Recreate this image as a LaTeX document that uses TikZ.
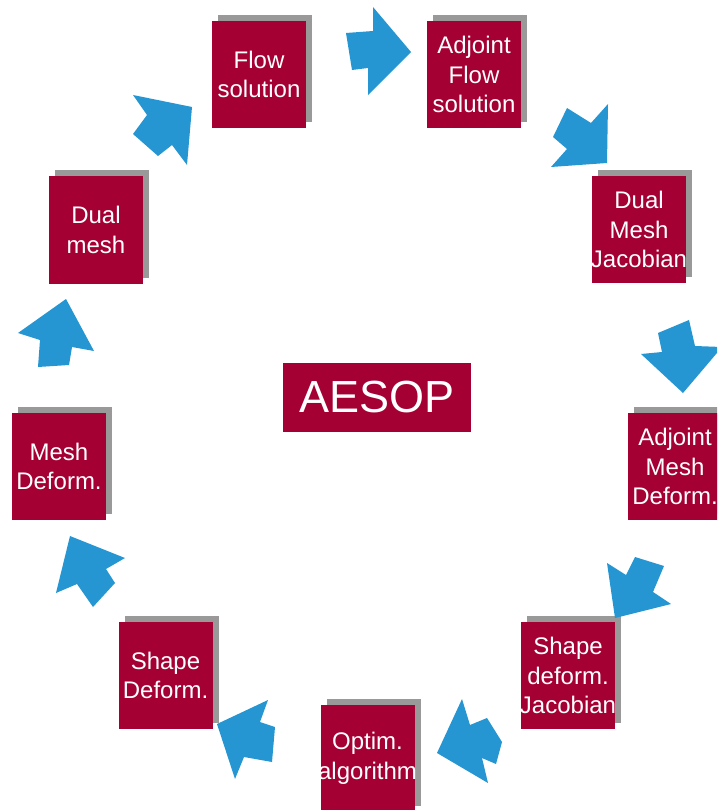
\documentclass[tikz,border=0pt]{standalone}
\usepackage{fontspec}
\setmainfont{Liberation Sans}
\usetikzlibrary{shadows}
\definecolor{boxred}{RGB}{165,0,52}
\definecolor{shadowgray}{RGB}{153,153,153}
\definecolor{arrowblue}{RGB}{38,150,211}

\begin{document}
\begin{tikzpicture}[x=1pt,y=-1pt,
  stepbox/.style={fill=boxred, minimum width=94pt, minimum height=107pt, inner sep=0pt,
    general shadow={shadow xshift=6pt, shadow yshift=6pt, fill=shadowgray}},
  steplabel/.style={text=white, align=center, inner sep=0pt,
    font=\fontsize{24}{29.5}\selectfont},
  titlebox/.style={fill=boxred, minimum width=188pt, minimum height=69pt, inner sep=0pt,
    text=white, font=\fontsize{45}{50}\selectfont},
  blockarrow/.style={fill=arrowblue}]
\clip (0,0) rectangle (717,810);
\fill[white] (0,0) rectangle (717,810);

% centre title
\node[titlebox] (aesop) at (377,397.5) {AESOP};

% process steps, clockwise from the top
\node[stepbox] (flow) at (259,74.5) {};
\node[steplabel] (flowtxt) at (flow) {Flow\\solution};

\node[stepbox] (adjflow) at (474,74.5) {};
\node[steplabel] (adjflowtxt) at (adjflow) {Adjoint\\Flow\\solution};

\node[stepbox] (dualjac) at (639,229.5) {};
\node[steplabel] (dualjactxt) at (dualjac) {Dual\\Mesh\\Jacobian};

\node[stepbox] (adjmesh) at (675,466.5) {};
\node[steplabel] (adjmeshtxt) at (adjmesh) {Adjoint\\Mesh\\Deform.};

\node[stepbox] (shapejac) at (568,675.5) {};
\node[steplabel] (shapejactxt) at (shapejac) {Shape\\deform.\\Jacobian};

\node[stepbox] (optim) at (367.5,758.5) {};
\node[steplabel] (optimtxt) at (optim) {Optim.\\algorithm};

\node[stepbox] (shapedef) at (165.5,675.5) {};
\node[steplabel] (shapedeftxt) at (shapedef) {Shape\\Deform.};

\node[stepbox] (meshdef) at (59,466.5) {};
\node[steplabel] (meshdeftxt) at (meshdef) {Mesh\\Deform.};

\node[stepbox] (dualmesh) at (96,230) {};
\node[steplabel] (dualmeshtxt) at (dualmesh) {Dual\\mesh};

% block arrows between the steps
\fill[blockarrow] (346,33) -- (373,31) -- (373,7) -- (411,52) -- (368,95) -- (368,68) -- (352,70) -- cycle;
\fill[blockarrow] (567,108) -- (591,123) -- (608,104) -- (607,163) -- (551,167) -- (567,149) -- (553,137) -- cycle;
\fill[blockarrow] (658,333) -- (689,320) -- (695,346) -- (722,347) -- (683,393) -- (641,354) -- (662,352) -- cycle;
\fill[blockarrow] (607,563) -- (626,575) -- (635,557) -- (664,566) -- (653,592) -- (671,604) -- (615,618) -- cycle;
\fill[blockarrow] (462,699) -- (470,725) -- (487,718) -- (502,742) -- (496,764) -- (482,758) -- (488,783) -- (437,753) -- cycle;
\fill[blockarrow] (217,724) -- (268,700) -- (260,722) -- (275,727) -- (272,762) -- (244,757) -- (235,779) -- cycle;
\fill[blockarrow] (70,536) -- (125,558) -- (106,569) -- (115,583) -- (93,607) -- (77,584) -- (56,593) -- cycle;
\fill[blockarrow] (66,299) -- (94,351) -- (72,347) -- (69,365) -- (38,367) -- (40,340) -- (18,333) -- cycle;
\fill[blockarrow] (133,95) -- (192,107) -- (187,165) -- (172,145) -- (158,156) -- (133,134) -- (147,115) -- cycle;
\end{tikzpicture}
\end{document}
